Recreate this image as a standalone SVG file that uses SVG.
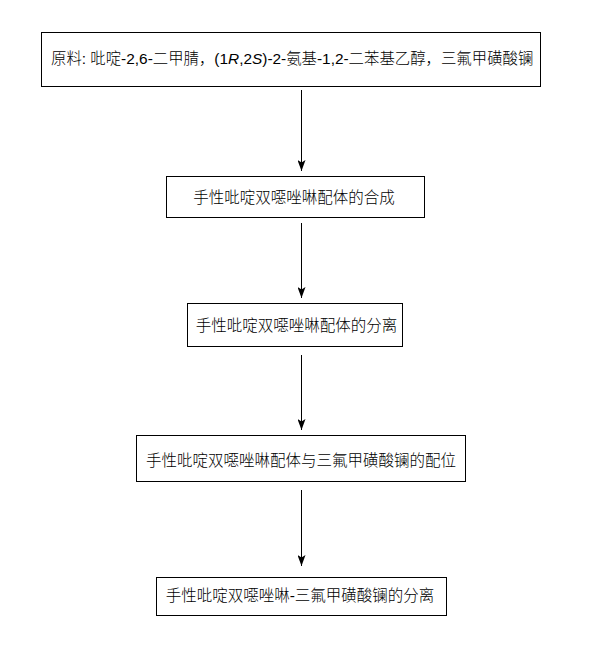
<svg xmlns="http://www.w3.org/2000/svg" width="599" height="647" viewBox="0 0 599 647">
<style>
.box{fill:#fff;stroke:#000;stroke-width:1}
.t{font-family:"Liberation Sans","Noto Sans CJK SC",sans-serif;font-size:15.5px;font-weight:300;fill:#000}
.c{text-anchor:middle}
.conn{stroke:#000;stroke-width:1;fill:none;marker-end:url(#ah)}
</style>
<defs>
<marker id="ah" markerUnits="userSpaceOnUse" markerWidth="12" markerHeight="8" refX="11" refY="4" orient="auto" viewBox="0 0 12 8">
<path d="M0,0 L11,4 L0,8 L2.5,4 z" fill="#000"/>
</marker>
</defs>
<rect width="599" height="647" fill="#fff"/>
<g id="n1">
<rect class="box" x="41.5" y="32.5" width="499" height="54"/>
<text class="t" x="51" y="64" style="font-size:15.4px">原料: 吡啶-2,6-二甲腈，(1<tspan font-style="italic">R</tspan>,2<tspan font-style="italic">S</tspan>)-2-氨基-1,2-二苯基乙醇，三氟甲磺酸镧</text>
</g>
<g id="n2">
<rect class="box" x="166.5" y="176.5" width="258" height="41"/>
<text class="t c" x="294" y="203">手性吡啶双噁唑啉配体的合成</text>
</g>
<g id="n3">
<rect class="box" x="187.5" y="303.5" width="215" height="43"/>
<text class="t c" x="296.5" y="331">手性吡啶双噁唑啉配体的分离</text>
</g>
<g id="n4">
<rect class="box" x="136.5" y="435.5" width="329" height="46"/>
<text class="t c" x="301" y="466">手性吡啶双噁唑啉配体与三氟甲磺酸镧的配位</text>
</g>
<g id="n5">
<rect class="box" x="156.5" y="577.5" width="290" height="38"/>
<text class="t c" x="300" y="601">手性吡啶双噁唑啉-三氟甲磺酸镧的分离</text>
</g>
<g id="connectors">
<line class="conn" x1="301.5" y1="90" x2="301.5" y2="171"/>
<line class="conn" x1="301.5" y1="223" x2="301.5" y2="298"/>
<line class="conn" x1="301.5" y1="355" x2="301.5" y2="430"/>
<line class="conn" x1="301.5" y1="490" x2="301.5" y2="566"/>
</g>
</svg>
